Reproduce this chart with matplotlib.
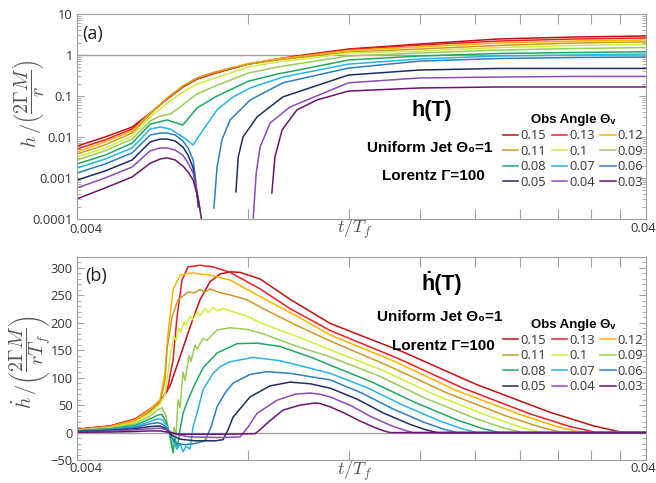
import numpy as np
import matplotlib
matplotlib.use('Agg')
import matplotlib.pyplot as plt
from matplotlib.lines import Line2D
from matplotlib.ticker import LogLocator, MultipleLocator, NullLocator, NullFormatter

nan = np.nan

angles = ['0.15', '0.13', '0.12', '0.11', '0.1', '0.09', '0.08', '0.07', '0.06', '0.05', '0.04', '0.03']
colors = ['#c01010', '#ee1c24', '#ffb400', '#cc9a2a', '#ccf03c', '#9ccc58',
          '#20a860', '#28b4e4', '#2e7fba', '#1c2f5e', '#8a4cb8', '#6c1470']

# ---- panel (a): h(T), log scale ----
ta_grid = [0.004, 0.00448, 0.005, 0.00538, 0.00576, 0.00614, 0.0065, 0.007, 0.008, 0.009,
           0.01, 0.012, 0.016, 0.022, 0.03, 0.04]
ha_15 = [0.006, 0.01, 0.0175, 0.0385, 0.0845, 0.166, 0.26, 0.364, 0.60, 0.80, 1.0, 1.40, 1.85, 2.46, 2.75, 2.91]
ha_13 = [0.0051, 0.0085, 0.0157, 0.0385, 0.0845, 0.166, 0.26, 0.364, 0.60, 0.80, 0.97, 1.36, 1.75, 2.19, 2.46, 2.60]
ha_12 = [0.0043, 0.0076, 0.014, 0.0385, 0.089, 0.175, 0.275, 0.385, 0.62, 0.80, 0.945, 1.29, 1.57, 1.96, 2.19, 2.32]
ha_11 = [0.00385, 0.0064, 0.0125, 0.036, 0.089, 0.175, 0.275, 0.385, 0.60, 0.755, 0.89, 1.18, 1.40, 1.71, 1.96, 2.08]
ha_10 = [0.00325, 0.0054, 0.0106, 0.031, 0.0675, 0.125, 0.196, 0.275, 0.51, 0.675, 0.80, 1.12, 1.25, 1.52, 1.71, 1.80]
ta_09 = [0.004, 0.00448, 0.005, 0.00538, 0.0056, 0.00583, 0.006, 0.0065, 0.007, 0.008, 0.009,
         0.01, 0.012, 0.016, 0.022, 0.03, 0.04]
ha_09 = [0.00275, 0.0046, 0.0089, 0.0246, 0.0325, 0.036, 0.048, 0.112, 0.175, 0.364, 0.51,
         0.64, 0.945, 1.12, 1.32, 1.44, 1.52]
ha_08 = [0.0022, 0.0036, 0.0071, 0.0207, 0.026, 0.0196, 0.051, 0.095, 0.23, 0.344, 0.455, 0.755, 0.945, 1.09, 1.15, 1.20]
ta_07 = [0.004, 0.00448, 0.005, 0.00538, 0.0056, 0.00583, 0.00614, 0.0064, 0.00666, 0.00705,
         0.00752, 0.00806, 0.0092, 0.012, 0.016, 0.022, 0.03, 0.04]
ha_07 = [0.00175, 0.0029, 0.0054, 0.0157, 0.0175, 0.0157, 0.01, 0.0064, 0.0148, 0.046,
         0.095, 0.157, 0.29, 0.60, 0.80, 0.945, 1.0, 1.06]
# nan = sign change of h (not shown on log axis)
ta_06 = [0.004, 0.00448, 0.005, 0.00538, 0.0056, 0.00576, 0.00595, 0.00614, 0.00627, 0.0064, 0.00648, 0.00653, nan,
         0.00696, 0.00705, 0.00719, 0.00743, 0.00806, 0.0092, 0.012, 0.016, 0.022, 0.03, 0.04]
ha_06 = [0.00132, 0.0022, 0.0041, 0.0112, 0.0125, 0.0125, 0.0112, 0.008, 0.0054, 0.00275, 0.00067, 0.0002, nan,
         0.000185, 0.00185, 0.0085, 0.026, 0.08, 0.21, 0.48, 0.71, 0.82, 0.87, 0.89]
ta_05 = [0.004, 0.00448, 0.005, 0.00538, 0.0056, 0.00576, 0.00595, 0.00614, 0.00627, 0.0064, 0.00648, 0.00655, nan,
         0.00761, 0.00768, 0.00783, 0.00829, 0.0092, 0.012, 0.016, 0.022, 0.03, 0.04]
ha_05 = [0.00089, 0.00148, 0.00275, 0.0076, 0.0089, 0.0089, 0.008, 0.0057, 0.0036, 0.00175, 0.00051, 0.0002, nan,
         0.00046, 0.00325, 0.01, 0.031, 0.095, 0.325, 0.43, 0.47, 0.47, 0.47]
ta_04 = [0.004, 0.00448, 0.005, 0.00538, 0.0056, 0.00576, 0.00595, 0.00614, 0.00627, 0.0064, 0.0065, 0.00658, nan,
         0.00816, 0.00826, 0.00839, 0.00874, 0.00947, 0.012, 0.016, 0.022, 0.03, 0.04]
ha_04 = [0.00057, 0.001, 0.00185, 0.0046, 0.0054, 0.0054, 0.0048, 0.0036, 0.0023, 0.00132, 0.00046, 0.000166, nan,
         0.000106, 0.00132, 0.0057, 0.022, 0.054, 0.21, 0.275, 0.29, 0.30, 0.30]
ta_03 = [0.004, 0.00448, 0.005, 0.00538, 0.0056, 0.00576, 0.00595, 0.00614, 0.00627, 0.0064, 0.00653, 0.00663, nan,
         0.0088, 0.00891, 0.00917, 0.00974, 0.01056, 0.012, 0.016, 0.022, 0.03, 0.04]
ha_03 = [0.00031, 0.00057, 0.00106, 0.0023, 0.0029, 0.0031, 0.00275, 0.00196, 0.0014, 0.00089, 0.000325, 0.000085, nan,
         0.00043, 0.00325, 0.0148, 0.046, 0.08, 0.132, 0.157, 0.166, 0.166, 0.166]

# ---- panel (b): h-dot(T) ----
tb_15 = [0.004, 0.004572, 0.005058, 0.005375, 0.005597, 0.005828, 0.006068, 0.006319, 0.00658, 0.006852,
         0.007134, 0.007429, 0.007736, 0.008388, 0.009471, 0.01114, 0.0129, 0.01496, 0.0201, 0.02712,
         0.03241, 0.03645, 0.04]
hb_15 = [6, 12, 24, 40, 55, 85, 138, 192, 242, 275, 289, 293, 292, 280, 243, 199, 173, 147, 88, 37, 12, 0, 0]
tb_13 = [0.004, 0.004572, 0.005058, 0.005375, 0.005597, 0.005757, 0.005899, 0.005996, 0.006118, 0.006268,
         0.00658, 0.006936, 0.007429, 0.008388, 0.009471, 0.01114, 0.0146, 0.01907, 0.02502, 0.02941, 0.03281, 0.04]
hb_13 = [6, 12, 25, 43, 58, 75, 132, 211, 278, 302, 305, 302, 292, 262, 226, 186, 136, 81, 34, 11, 0, 0]
tb_12 = [0.004, 0.004572, 0.005058, 0.005375, 0.005597, 0.005711, 0.005781, 0.005899, 0.006068, 0.006371,
         0.006852, 0.007429, 0.008491, 0.009744, 0.01114, 0.01437, 0.01854, 0.02402, 0.02802, 0.031, 0.04]
hb_12 = [5, 11, 23, 42, 60, 110, 181, 260, 287, 291, 287, 278, 245, 212, 178, 131, 77, 33, 10, 0, 0]
tb_11 = [0.004, 0.004572, 0.005058, 0.005375, 0.005597, 0.005711, 0.005757, 0.005875, 0.00602, 0.006268,
         0.006448, 0.00658, 0.006714, 0.006852, 0.007077, 0.007429, 0.007958, 0.008491, 0.009744, 0.01114,
         0.01408, 0.0178, 0.0226, 0.02605, 0.02859, 0.04]
hb_11 = [5, 10, 21, 38, 55, 95, 151, 211, 242, 256, 255, 261, 256, 262, 256, 251, 242, 226, 195, 167,
         122, 73, 31, 10, 0, 0]
tb_10 = [0.004, 0.004572, 0.005058, 0.005375, 0.005597, 0.005711, 0.005781, 0.005852, 0.005923, 0.005971,
         0.006044, 0.006093, 0.006168, 0.006218, 0.006319, 0.006396, 0.0065, 0.00658, 0.006714, 0.006796,
         0.006936, 0.007048, 0.007222, 0.007429, 0.007958, 0.008491, 0.009744, 0.01114, 0.0138, 0.0171,
         0.02127, 0.02422, 0.02637, 0.04]
hb_10 = [4, 9, 19, 35, 52, 70, 110, 150, 175, 168, 190, 183, 202, 196, 212, 205, 220, 213, 226, 219,
         228, 222, 226, 222, 212, 198, 175, 151, 113, 68, 29, 9, 0, 0]
tb_09 = [0.004, 0.004572, 0.005058, 0.005375, 0.005552, 0.005642, 0.005734, 0.005804, 0.005875, 0.005923,
         0.005971, 0.00602, 0.006068, 0.006143, 0.006192, 0.006293, 0.006345, 0.006448, 0.0065, 0.00666,
         0.006769, 0.007048, 0.007429, 0.007958, 0.008491, 0.009744, 0.01114, 0.01352, 0.01642, 0.02002,
         0.02251, 0.02432, 0.04]
hb_09 = [4, 8, 16, 30, 42, 45, 30, 0, -28, 10, -5, 60, 45, 110, 95, 140, 130, 160, 152, 172,
         168, 187, 191, 188, 180, 157, 138, 104, 62, 26, 8, 0, 0]
tb_08 = [0.004, 0.004572, 0.005058, 0.005375, 0.005552, 0.005642, 0.005734, 0.005828, 0.005899, 0.005947,
         0.005996, 0.006068, 0.006143, 0.006243, 0.006396, 0.00666, 0.007048, 0.007643, 0.008287, 0.009096,
         0.01039, 0.01114, 0.0132, 0.0157, 0.01862, 0.02068, 0.02216, 0.04]
hb_08 = [3, 7, 13, 25, 32, 33, 20, -5, -37, -10, -30, 5, 35, 55, 81, 118, 145, 162, 163, 157,
         136, 123, 92, 55, 23, 7, 0, 0]
tb_07 = [0.004, 0.004572, 0.005058, 0.005375, 0.005529, 0.005642, 0.005757, 0.005875, 0.005996, 0.006068,
         0.006143, 0.006218, 0.006319, 0.006396, 0.0065, 0.00666, 0.006936, 0.007134, 0.007429, 0.008154,
         0.009096, 0.01039, 0.01114, 0.01293, 0.01496, 0.01738, 0.019, 0.02018, 0.04]
hb_07 = [3, 6, 11, 20, 25, 24, 12, -10, -30, -20, -35, -25, -30, 10, 35, 78, 108, 120, 129, 137,
         131, 116, 108, 82, 50, 21, 7, 0, 0]
tb_06 = [0.004, 0.004572, 0.005058, 0.005375, 0.005552, 0.005665, 0.005781, 0.005875, 0.005996, 0.006192,
         0.006448, 0.006714, 0.00688, 0.007048, 0.00728, 0.00752, 0.008056, 0.008629, 0.009471, 0.01114,
         0.01267, 0.01437, 0.01636, 0.01766, 0.01862, 0.04]
hb_06 = [2, 5, 9, 16, 18, 15, 5, -10, -20, -22, -20, -15, 10, 47, 72, 90, 106, 111, 108, 96,
         72, 43, 18, 6, 0, 0]
tb_05 = [0.004, 0.004572, 0.005058, 0.005375, 0.005597, 0.005711, 0.005875, 0.006068, 0.006448, 0.006992,
         0.007222, 0.00737, 0.00752, 0.008056, 0.008734, 0.009471, 0.01027, 0.01114, 0.01242, 0.0138,
         0.01539, 0.01642, 0.01717, 0.04]
hb_05 = [2, 4, 7, 11, 12, 8, -5, -12, -15, -15, -13, 5, 28, 65, 85, 92, 89, 81, 61, 36, 15, 5, 0, 0]
tb_04 = [0.004, 0.004572, 0.005058, 0.005375, 0.005597, 0.005757, 0.005947, 0.006319, 0.007134, 0.007736,
         0.007991, 0.008287, 0.008985, 0.009665, 0.01027, 0.01069, 0.01114, 0.01212, 0.01314, 0.01431,
         0.01509, 0.01558, 0.04]
hb_04 = [1, 3, 5, 7, 8, 5, -3, -8, -9, -8, 10, 35, 59, 70, 72, 70, 65, 49, 29, 12, 4, 0, 0]
tb_03 = [0.004, 0.004572, 0.005058, 0.005375, 0.005597, 0.005828, 0.006068, 0.007134, 0.00822, 0.008388,
         0.008629, 0.009206, 0.009862, 0.01048, 0.01069, 0.01114, 0.01183, 0.01257, 0.01336, 0.01386,
         0.0142, 0.04]
hb_03 = [0.5, 1, 2, 3, 3, 0, -3, -3, -2, 5, 17, 41, 50, 54, 53, 47, 35, 21, 9, 3, 0, 0]

xticks = [0.004, 0.008, 0.012, 0.016, 0.02, 0.024, 0.028, 0.032, 0.036, 0.04]

top_t = [ta_grid, ta_grid, ta_grid, ta_grid, ta_grid, ta_09, ta_grid, ta_07, ta_06, ta_05, ta_04, ta_03]
top_h = [ha_15, ha_13, ha_12, ha_11, ha_10, ha_09, ha_08, ha_07, ha_06, ha_05, ha_04, ha_03]
bot_t = [tb_15, tb_13, tb_12, tb_11, tb_10, tb_09, tb_08, tb_07, tb_06, tb_05, tb_04, tb_03]
bot_h = [hb_15, hb_13, hb_12, hb_11, hb_10, hb_09, hb_08, hb_07, hb_06, hb_05, hb_04, hb_03]

plt.rcParams['font.family'] = ['Open Sans', 'DejaVu Sans']
plt.rcParams['mathtext.fontset'] = 'cm'
bold = ['Liberation Sans', 'DejaVu Sans']
grey = '#a0a0a0'

W, H = 656, 483
fig = plt.figure(figsize=(6.56, 4.83), dpi=100)
axa = fig.add_axes([0.1174, 0.5466, 0.8674, 0.4244])
axb = fig.add_axes([0.1174, 0.0476, 0.8674, 0.4203])


def style(ax):
    ax.set_xscale('log')
    ax.set_xlim(0.004, 0.04)
    ax.set_xticks(xticks)
    ax.set_xticklabels([''] * len(xticks))
    ax.xaxis.set_minor_locator(NullLocator())
    ax.xaxis.set_minor_formatter(NullFormatter())
    for s in ax.spines.values():
        s.set_color(grey)
    ax.tick_params(which='both', direction='in', color=grey, top=True, right=True,
                   labelsize=9.3, labelcolor='#333333')
    ax.tick_params(axis='x', which='major', length=7)
    ax.tick_params(axis='y', which='major', length=5, pad=3)
    ax.tick_params(axis='y', which='minor', length=3)


def ftext(px, py, s, **kw):
    return fig.text(px / W, 1 - py / H, s, **kw)


# panel a
for t, h, c in zip(top_t, top_h, colors):
    axa.plot(t, h, color=c, lw=1.1)
axa.set_yscale('log')
axa.set_ylim(1e-4, 10)
axa.axhline(1, color=grey, lw=1, zorder=0)
style(axa)
axa.set_yticks([1e-4, 1e-3, 1e-2, 1e-1, 1, 10])
axa.set_yticklabels(['0.0001', '0.001', '0.01', '0.1', '1', '10'])
axa.yaxis.set_minor_locator(LogLocator(base=10, subs=np.arange(2, 10)))
axa.yaxis.set_minor_formatter(NullFormatter())

# panel b
for t, h, c in zip(bot_t, bot_h, colors):
    axb.plot(t, h, color=c, lw=1.1)
axb.set_ylim(-50, 320)
axb.axhline(0, color=grey, lw=1, zorder=0)
style(axb)
axb.set_yticks(np.arange(-50, 301, 50))
axb.yaxis.set_minor_locator(MultipleLocator(10))

# axis titles
ftext(28, 104, r'$h\,/\left(\dfrac{2\Gamma M}{r}\right)$', fontsize=14.5, color='#555555',
      rotation=90, ha='center', va='center')
ftext(30, 362, r'$\dot{h}\,/\left(\dfrac{2\Gamma M}{rT_f}\right)$', fontsize=14.5, color='#555555',
      rotation=90, ha='center', va='center')
ftext(355, 229, r'$t/T_f$', fontsize=13, color='#555555', ha='center', va='center')
ftext(355, 471, r'$t/T_f$', fontsize=13, color='#555555', ha='center', va='center')

# end labels of the time axis
for py in (229, 469):
    ftext(86, py, '0.004', fontsize=9.3, color='#333333', ha='center', va='center')
    ftext(643, py - 1, '0.04', fontsize=9.3, color='#333333', ha='center', va='center')

# panel letters and annotations
ftext(82, 34, '(a)', fontsize=13, color='#222222', va='center')
ftext(85, 276, '(b)', fontsize=13, color='#222222', va='center')

ftext(432, 110, 'h(T)', family=bold, weight='bold', fontsize=15.5, ha='center', va='center')
ftext(430, 148, 'Uniform Jet Θ₀=1', family=bold, weight='bold', fontsize=11, ha='center', va='center')
ftext(433, 176, 'Lorentz Γ=100', family=bold, weight='bold', fontsize=11, ha='center', va='center')

ftext(442, 283, 'ḣ(T)', family=bold, weight='bold', fontsize=15.5, ha='center', va='center')
ftext(440, 317, 'Uniform Jet Θ₀=1', family=bold, weight='bold', fontsize=11, ha='center', va='center')
ftext(443, 346, 'Lorentz Γ=100', family=bold, weight='bold', fontsize=11, ha='center', va='center')

# legends: row-major order 3 per row
order = [0, 3, 6, 9, 1, 4, 7, 10, 2, 5, 8, 11]
handles = [Line2D([], [], color=colors[i], lw=1.1) for i in order]
labels = [angles[i] for i in order]
for ax, ytop in [(axa, 0.51), (axb, 0.695)]:
    leg = ax.legend(handles, labels, ncol=3, loc='upper left', bbox_to_anchor=(0.748, ytop),
                    frameon=False, fontsize=9.3, title='Obs Angle Θᵥ',
                    title_fontproperties={'family': bold, 'weight': 'bold', 'size': 9.5},
                    handlelength=1.2, handletextpad=0.15, columnspacing=0.45,
                    labelspacing=0.2, borderpad=0, borderaxespad=0)
    for txt in leg.get_texts():
        txt.set_color('#333333')

fig.savefig('out.png', dpi=100)
